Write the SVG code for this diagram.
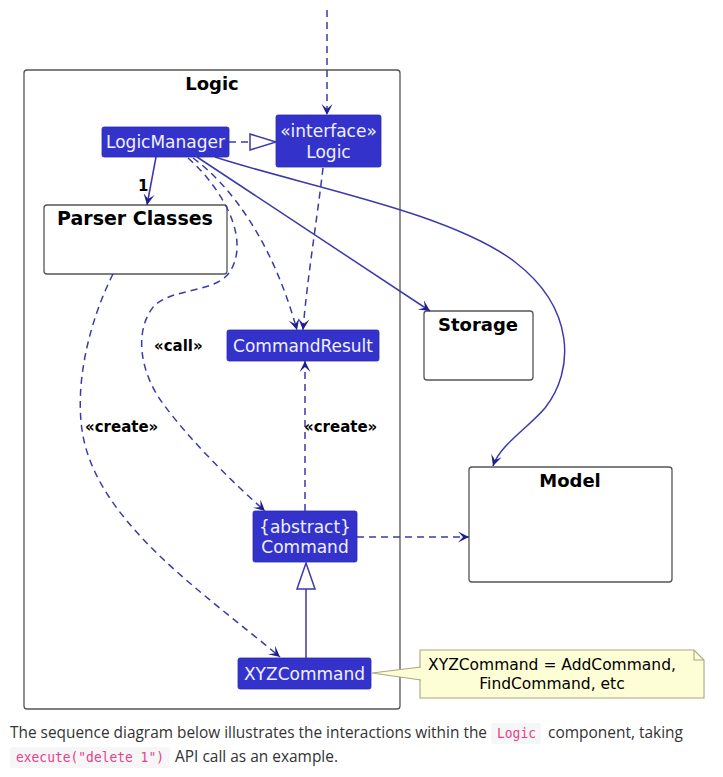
<svg xmlns="http://www.w3.org/2000/svg" width="723" height="777" viewBox="0 0 723 777">
<defs>
<style>
.pkg{fill:#ffffff;stroke:#555555;stroke-width:1.3}
.cls{fill:#3333cc;stroke:#2a2ab0;stroke-width:0.8}
.ct{font-family:"DejaVu Sans",sans-serif;font-size:17px;fill:#f0f0ff;text-anchor:middle}
.bt{font-family:"DejaVu Sans",sans-serif;font-weight:bold;fill:#000000;text-anchor:middle}
.lbl{font-family:"DejaVu Sans",sans-serif;font-weight:bold;font-size:15px;fill:#000000}
.e{fill:none;stroke:#3a3aaa;stroke-width:1.5}
.d{stroke-dasharray:7,5}
.note{fill:#fefed6;stroke:#a8a880;stroke-width:1.1}
.nt{font-family:"DejaVu Sans",sans-serif;font-size:15.5px;fill:#000000;text-anchor:middle}
.body{font-family:"Open Sans","Noto Sans",sans-serif;font-size:15.5px;fill:#333333}
.code{font-family:"DejaVu Sans Mono","Liberation Mono",monospace;font-size:13.5px;fill:#e83e8c}
</style>
<marker id="arr" markerUnits="userSpaceOnUse" orient="auto" refX="0" refY="0" markerWidth="20" markerHeight="20" overflow="visible">
<path d="M0,0 L-11,-5.5 L-6,0 L-11,5.5 Z" fill="#1e1e8c"/>
</marker>
</defs>
<rect width="723" height="777" fill="#ffffff"/>

<g id="Logic">
<rect class="pkg" x="24" y="70" width="376" height="639" rx="3"/>
<text class="bt" x="212" y="90" font-size="18">Logic</text>
</g>

<g id="ParserClasses">
<rect class="pkg" x="44" y="205" width="183" height="69" rx="3"/>
<text class="bt" x="135" y="225" font-size="19">Parser Classes</text>
</g>

<g id="Storage">
<rect class="pkg" x="424" y="311" width="109" height="69" rx="3"/>
<text class="bt" x="478" y="331" font-size="18">Storage</text>
</g>

<g id="Model">
<rect class="pkg" x="469" y="467" width="203" height="115" rx="3"/>
<text class="bt" x="570" y="487" font-size="18">Model</text>
</g>

<g id="connectors">
<line class="e d" x1="327" y1="10" x2="327" y2="115" marker-end="url(#arr)"/>
<line class="e d" x1="229" y1="142" x2="250" y2="142"/>
<polygon points="250,134 250,150 276,142" fill="#ffffff" stroke="#3a3aaa" stroke-width="1.5"/>
<line class="e" x1="156" y1="157" x2="147" y2="205" marker-end="url(#arr)"/>
<line class="e" x1="197" y1="157" x2="430" y2="311" marker-end="url(#arr)"/>
<path class="e" d="M215,157 C300,185 450,212 515,262 C575,308 575,370 545,408 C528,428 500,445 493,466" marker-end="url(#arr)"/>
<path class="e d" d="M193,158 C230,185 272,240 297,330" marker-end="url(#arr)"/>
<path class="e d" d="M188,158 C222,188 252,240 229,273 C214,293 172,288 154,306 C134,330 139,372 164,405 C190,440 230,480 265,511" marker-end="url(#arr)"/>
<path class="e d" d="M323,168 C317,220 307,280 303,330" marker-end="url(#arr)"/>
<path class="e d" d="M113,274 C90,320 75,380 82,430 C95,520 200,590 280,657" marker-end="url(#arr)"/>
<line class="e d" x1="305" y1="511" x2="305" y2="361" marker-end="url(#arr)"/>
<line class="e d" x1="357" y1="537" x2="469" y2="537" marker-end="url(#arr)"/>
<line class="e" x1="306" y1="658" x2="306" y2="589"/>
<polygon points="297,589 315,589 306,563" fill="#ffffff" stroke="#3a3aaa" stroke-width="1.5"/>
<text x="138" y="191" font-family="DejaVu Sans,sans-serif" font-weight="bold" font-size="15" fill="#000000">1</text>
<text class="lbl" x="154" y="351">«call»</text>
<text class="lbl" x="85" y="432">«create»</text>
<text class="lbl" x="304" y="432">«create»</text>
</g>

<g id="LogicManager">
<rect class="cls" x="102" y="127" width="127" height="30" rx="2"/>
<text class="ct" x="165.5" y="148">LogicManager</text>
</g>

<g id="LogicInterface">
<rect class="cls" x="276" y="115" width="105" height="52" rx="2"/>
<text class="ct" x="328.5" y="137">«interface»</text>
<text class="ct" x="328.5" y="158">Logic</text>
</g>

<g id="CommandResult">
<rect class="cls" x="227" y="330" width="152" height="31" rx="2"/>
<text class="ct" x="303" y="352">CommandResult</text>
</g>

<g id="Command">
<rect class="cls" x="253" y="511" width="104" height="51" rx="2"/>
<text class="ct" x="305" y="533">{abstract}</text>
<text class="ct" x="305" y="553">Command</text>
</g>

<g id="XYZCommand">
<rect class="cls" x="238" y="658" width="133" height="31" rx="2"/>
<text class="ct" x="304.5" y="680">XYZCommand</text>
</g>

<g id="Note">
<path class="note" d="M420,650 L694,650 L704,660 L704,698 L420,698 Z"/>
<path d="M694,650 L694,660 L704,660" fill="none" stroke="#a8a880" stroke-width="1.1"/>
<polygon points="372,673 421,667 421,680" fill="#fefed6" stroke="none"/>
<path d="M421,667 L372,673 L421,680" fill="none" stroke="#a8a880" stroke-width="1.1"/>
<text class="nt" x="552" y="670">XYZCommand = AddCommand,</text>
<text class="nt" x="552" y="689">FindCommand, etc</text>
</g>

<g id="caption">
<text class="body" x="10" y="738" textLength="477" lengthAdjust="spacingAndGlyphs">The sequence diagram below illustrates the interactions within the</text>
<rect x="491" y="723" width="50" height="21" rx="3" fill="#f6f6f6"/>
<text class="code" x="497" y="738" textLength="39" lengthAdjust="spacingAndGlyphs">Logic</text>
<text class="body" x="548" y="738" textLength="135" lengthAdjust="spacingAndGlyphs">component, taking</text>
<rect x="10" y="747" width="160" height="21" rx="3" fill="#f6f6f6"/>
<text class="code" x="16" y="762" textLength="148" lengthAdjust="spacingAndGlyphs">execute("delete 1")</text>
<text class="body" x="175" y="762" textLength="163" lengthAdjust="spacingAndGlyphs">API call as an example.</text>
</g>
</svg>
